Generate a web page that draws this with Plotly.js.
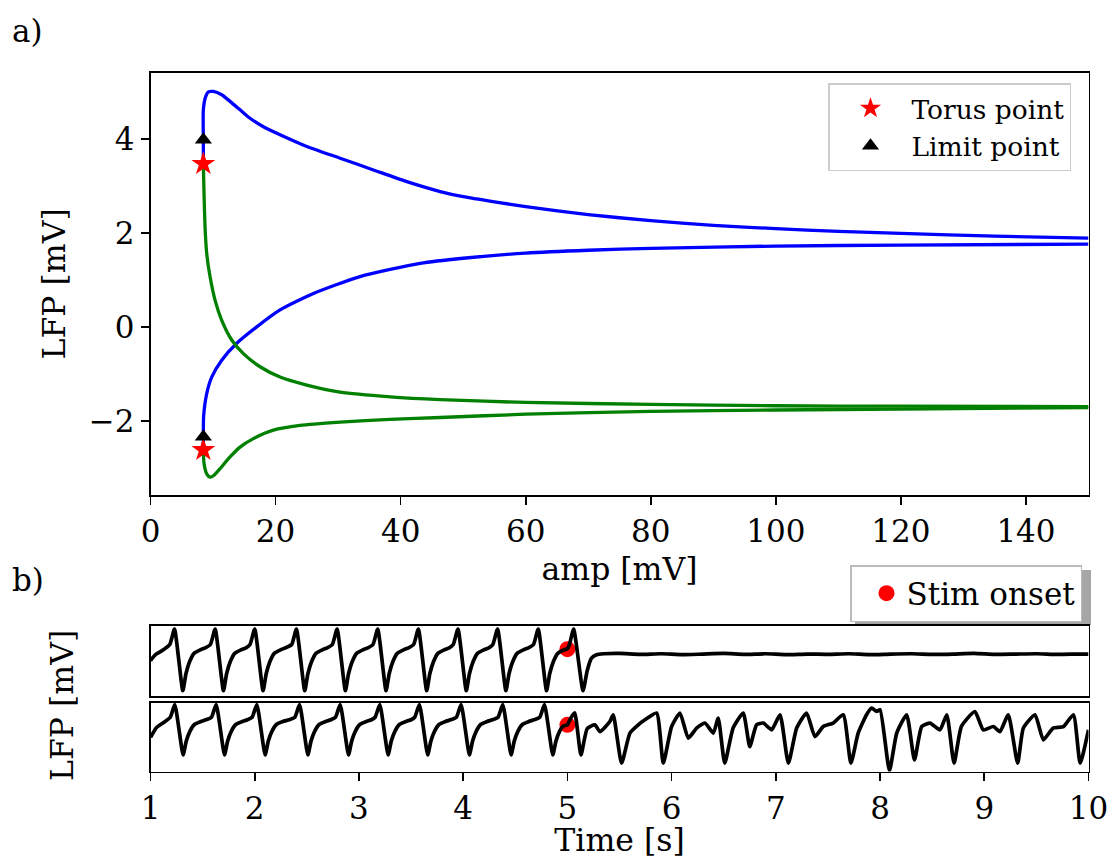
<!DOCTYPE html>
<html><head><meta charset="utf-8">
<script src="https://cdn.plot.ly/plotly-3.0.1.min.js"></script>
<style>html,body{margin:0;padding:0;background:#fff}#chart{width:1110px;height:858px}</style>
</head><body><div id="chart"></div>
<script>
// ---------- Panel a: continuation branches ----------
const blueUpX = [8.45,8.45,8.45,8.82,9.25,10.05,11.39,12.72,14.32,15.92,18.05,20.72,24.99,30.32,35.65,40.99,46.32,50,55,60,70,80,90,100,110,120,135,150];
const blueUpY = [3.47,3.98,4.62,4.90,5.00,5.01,4.94,4.80,4.62,4.44,4.26,4.09,3.84,3.59,3.34,3.09,2.88,2.77,2.66,2.56,2.39,2.26,2.16,2.09,2.03,1.99,1.93,1.89];
const blueLoX = [8.45,8.45,8.5,8.99,9.79,11.39,13.79,16.99,20.72,26.05,33.52,43.12,50,60,70,80,100,120,150];
const blueLoY = [-2.62,-2.34,-1.9,-1.42,-1.07,-0.71,-0.35,0.0,0.36,0.71,1.07,1.35,1.46,1.57,1.63,1.67,1.72,1.74,1.76];
const greenUpX = [8.45,8.56,8.72,8.99,9.52,10.32,11.39,12.99,14.85,17.52,20.72,24.99,30.32,38.32,46.32,60,80,100,120,150];
const greenUpY = [3.47,2.84,2.13,1.56,1.07,0.57,0.14,-0.28,-0.57,-0.85,-1.07,-1.24,-1.39,-1.49,-1.55,-1.61,-1.65,-1.68,-1.69,-1.70];
const greenLoX = [8.45,8.56,8.99,9.52,10.16,11.12,12.72,14.32,16.45,19.65,23.92,30.32,38.32,46.32,60,80,100,120,150];
const greenLoY = [-2.62,-2.91,-3.13,-3.20,-3.16,-3.02,-2.77,-2.56,-2.38,-2.20,-2.10,-2.03,-1.97,-1.93,-1.86,-1.80,-1.77,-1.75,-1.72];
const torusX = [8.45, 8.45];
const torusY = [3.47, -2.62];
const limitX = [8.45, 8.45];
const limitY = [3.98, -2.34];
const ampTicks = [0,20,40,60,80,100,120,140];
const lfpTicks = [-2,0,2,4];
const lfpTickText = ['\u22122','0','2','4'];

// ---------- Panel b: LFP time series ----------
const topT = [1.00,1.05,1.12,1.185,
1.23,1.31,1.34,1.375,1.42,1.48,1.53,1.575,
1.62,1.70,1.73,1.765,1.81,1.87,1.92,1.955,
2.00,2.08,2.11,2.145,2.19,2.25,2.30,2.355,
2.40,2.48,2.51,2.545,2.59,2.65,2.70,2.745,
2.79,2.87,2.90,2.935,2.98,3.04,3.09,3.135,
3.18,3.26,3.29,3.325,3.37,3.43,3.48,3.525,
3.57,3.65,3.68,3.715,3.76,3.82,3.87,3.905,
3.95,4.03,4.06,4.095,4.14,4.20,4.25,4.285,
4.33,4.41,4.44,4.475,4.52,4.58,4.63,4.675,
4.72,4.80,4.83,4.865,4.91,4.97,5.00,5.02,
5.06,5.15,5.19,5.23,5.28,5.35,
5.5,5.7,5.9,6.1,6.3,6.5,6.7,6.9,7.1,7.3,7.5,7.7,7.9,8.1,8.3,8.5,8.7,8.9,9.1,9.3,9.5,9.7,9.9,10.0];
const topV = [-0.02,0.18,0.32,0.50,
1.00,-1.00,-0.45,-0.06,0.22,0.33,0.40,0.50,
1.00,-1.00,-0.45,-0.06,0.22,0.33,0.40,0.50,
1.00,-1.00,-0.45,-0.06,0.22,0.33,0.40,0.50,
1.00,-1.00,-0.45,-0.06,0.22,0.33,0.40,0.50,
1.00,-1.00,-0.45,-0.06,0.22,0.33,0.40,0.50,
1.00,-1.00,-0.45,-0.06,0.22,0.33,0.40,0.50,
1.00,-1.00,-0.45,-0.06,0.22,0.33,0.40,0.50,
1.00,-1.00,-0.45,-0.06,0.22,0.33,0.40,0.50,
1.00,-1.00,-0.45,-0.06,0.22,0.33,0.40,0.50,
1.00,-1.00,-0.45,-0.06,0.22,0.33,0.36,0.50,
1.00,-1.00,-0.35,0.05,0.17,0.20,
0.21,0.18,0.20,0.17,0.19,0.21,0.18,0.20,0.17,0.19,0.18,0.20,0.17,0.19,0.20,0.18,0.19,0.21,0.18,0.19,0.20,0.18,0.19,0.19];

const botT = [1.00,1.06,1.13,1.19,
1.233,1.313,1.343,1.378,1.423,1.483,1.533,1.585,
1.63,1.71,1.74,1.775,1.82,1.88,1.93,1.975,
2.02,2.10,2.13,2.165,2.21,2.27,2.33,2.385,
2.43,2.51,2.54,2.575,2.62,2.68,2.73,2.775,
2.82,2.90,2.93,2.965,3.01,3.07,3.12,3.155,
3.20,3.28,3.31,3.345,3.39,3.45,3.50,3.535,
3.58,3.66,3.69,3.725,3.77,3.83,3.88,3.935,
3.98,4.06,4.09,4.125,4.17,4.23,4.28,4.335,
4.38,4.46,4.49,4.525,4.57,4.63,4.68,4.735,
4.78,4.86,4.89,4.925,4.96,5.00,5.03,
5.07,5.13,5.19,5.264,5.312,5.408,5.44,5.52,5.60,5.68,
5.744,5.856,5.92,6.0,6.08,6.16,6.24,6.32,6.40,6.447,
6.51,6.59,6.687,6.75,6.815,6.88,6.96,7.04,7.12,7.20,
7.295,7.375,7.455,7.55,7.647,7.72,7.79,7.87,7.92,7.967,
8.0,8.09,8.16,8.255,8.33,8.40,8.48,8.575,8.64,8.71,
8.78,8.91,8.99,9.087,9.15,9.23,9.32,9.375,9.487,9.567,
9.66,9.76,9.855,9.92,10.0];
const botV = [-0.30,0.10,0.30,0.50,
1.00,-1.00,-0.45,-0.06,0.22,0.33,0.40,0.50,
1.00,-1.00,-0.45,-0.06,0.22,0.33,0.40,0.50,
1.00,-1.00,-0.45,-0.06,0.22,0.33,0.40,0.50,
1.00,-1.00,-0.45,-0.06,0.22,0.33,0.40,0.50,
1.00,-1.00,-0.45,-0.06,0.22,0.33,0.40,0.50,
1.00,-1.00,-0.45,-0.06,0.22,0.33,0.40,0.50,
1.00,-1.00,-0.45,-0.06,0.22,0.33,0.40,0.50,
1.00,-1.00,-0.45,-0.06,0.22,0.33,0.40,0.50,
1.00,-1.00,-0.45,-0.06,0.22,0.33,0.40,0.50,
1.00,-1.00,-0.45,-0.06,0.15,0.20,0.45,
0.68,-1.0,0.05,0.2,-0.07,0.33,0.6,-1.33,-0.13,0.2,
0.4,0.67,-1.33,0.13,0.67,-0.33,0.07,0.27,-0.13,0.47,
-1.33,0.07,0.67,-0.67,0.2,0.27,0.0,0.6,-1.33,0.07,
0.67,-0.27,0.13,0.27,0.6,-1.33,-0.13,0.6,0.87,0.73,
0.8,-1.62,-0.13,0.6,-1.2,0.13,0.27,0.0,0.6,-1.33,
0.13,0.73,0.0,0.13,-0.07,0.6,-1.33,0.07,0.6,-0.4,
0.07,0.13,0.6,-1.33,0.0];
const stimT = [5.0];
const stimTopV = [0.35];
const stimBotV = [0.20];
const timeTicks = [1,2,3,4,5,6,7,8,9,10];

// ---------- styling ----------
const FONT = 'DejaVu Serif, Liberation Serif, serif';
const FS = 31;
const xDom = [150.5/1110, 1088.5/1110];
function frame(extra) {
  return Object.assign({showline:true, mirror:true, linecolor:'#000', linewidth:1.8,
    showgrid:false, zeroline:false, ticks:'outside', ticklen:8, tickwidth:1.6, tickcolor:'#000',
    tickfont:{family:FONT, size:FS, color:'#000'}}, extra);
}
const lineA = (x,y,c) => ({x:x, y:y, type:'scatter', mode:'lines', xaxis:'x', yaxis:'y',
  line:{color:c, width:3.3, shape:'spline', smoothing:0.6}, showlegend:false, hoverinfo:'skip'});

const traces = [
  lineA(blueUpX, blueUpY, '#0000ff'),
  lineA(blueLoX, blueLoY, '#0000ff'),
  lineA(greenUpX, greenUpY, '#008000'),
  lineA(greenLoX, greenLoY, '#008000'),
  {x:torusX, y:torusY, type:'scatter', mode:'markers', name:'Torus point', xaxis:'x', yaxis:'y',
   marker:{symbol:'star', size:18, color:'#ff0000', line:{width:0}}, legend:'legend'},
  {x:limitX, y:limitY, type:'scatter', mode:'markers', name:'Limit point', xaxis:'x', yaxis:'y',
   marker:{symbol:'triangle-up', size:15, color:'#000000', line:{width:0}}, legend:'legend'},
  {x:stimT, y:stimTopV, type:'scatter', mode:'markers', name:'Stim onset', xaxis:'x2', yaxis:'y2',
   marker:{symbol:'circle', size:16, color:'#ff0000', line:{width:0}}, legend:'legend2'},
  {x:stimT, y:stimBotV, type:'scatter', mode:'markers', name:'Stim onset', xaxis:'x3', yaxis:'y3',
   marker:{symbol:'circle', size:16, color:'#ff0000', line:{width:0}}, showlegend:false},
  {x:topT, y:topV, type:'scatter', mode:'lines', xaxis:'x2', yaxis:'y2', showlegend:false,
   line:{color:'#000', width:3.7, shape:'spline', smoothing:0.5}},
  {x:botT, y:botV, type:'scatter', mode:'lines', xaxis:'x3', yaxis:'y3', showlegend:false,
   line:{color:'#000', width:3.7, shape:'spline', smoothing:0.5}}
];

const layout = {
  width:1110, height:858, margin:{l:0,r:0,t:0,b:0}, paper_bgcolor:'#fff', plot_bgcolor:'#fff',
  font:{family:FONT, color:'#000'},
  xaxis: frame({domain:xDom, anchor:'y', range:[0,150], tickvals:ampTicks,
    title:{text:'amp [mV]', font:{family:FONT, size:31.5}, standoff:10}}),
  yaxis: frame({domain:[1-495/858, 1-72.7/858], anchor:'x', range:[-3.58,5.41], tickvals:lfpTicks, ticktext:lfpTickText,
    title:{text:'LFP [mV]', font:{family:FONT, size:31.5}, standoff:14}}),
  xaxis2: frame({domain:xDom, anchor:'y2', range:[1,10], showticklabels:false, ticks:''}),
  yaxis2: frame({domain:[1-695.7/858, 1-626/858], anchor:'x2', range:[-1.16,1.10], showticklabels:false, ticks:''}),
  xaxis3: frame({domain:xDom, anchor:'y3', range:[1,10], tickvals:timeTicks,
    title:{text:'Time [s]', font:{family:FONT, size:31.5}, standoff:4}}),
  yaxis3: frame({domain:[1-771.5/858, 1-702.7/858], anchor:'x3', range:[-1.66,1.08], showticklabels:false, ticks:''}),
  legend:{x:828/1110, y:1-83/858, xanchor:'left', yanchor:'top', bgcolor:'#fff', bordercolor:'#cccccc', borderwidth:1.5,
    font:{family:FONT, size:26.5, color:'#000'}, itemsizing:'trace', tracegroupgap:0, indentation:0, itemwidth:72},
  legend2:{x:850/1110, y:1-565/858, xanchor:'left', yanchor:'top', bgcolor:'#fff', bordercolor:'#bbbbbb', borderwidth:1.5,
    font:{family:FONT, size:31, color:'#000'}, itemsizing:'trace', indentation:15, itemwidth:30},
  shapes:[
    {type:'rect', xref:'paper', yref:'paper', x0:855/1110, x1:1091/1110, y0:1-625/858, y1:1-570/858,
     fillcolor:'#a6a6a6', line:{width:0}, layer:'below'}
  ],
  annotations:[
    {text:'a)', xref:'paper', yref:'paper', x:10/1110, y:1-31/858, xanchor:'left', yanchor:'middle', showarrow:false,
     font:{family:FONT, size:FS, color:'#000'}},
    {text:'b)', xref:'paper', yref:'paper', x:10/1110, y:1-580/858, xanchor:'left', yanchor:'middle', showarrow:false,
     font:{family:FONT, size:FS, color:'#000'}},
    {text:'LFP [mV]', xref:'paper', yref:'paper', x:62/1110, y:1-706/858, xanchor:'center', yanchor:'middle', textangle:-90,
     showarrow:false, font:{family:FONT, size:31.5, color:'#000'}}
  ]
};

Plotly.newPlot('chart', traces, layout, {staticPlot:true, displayModeBar:false});
</script></body></html>
